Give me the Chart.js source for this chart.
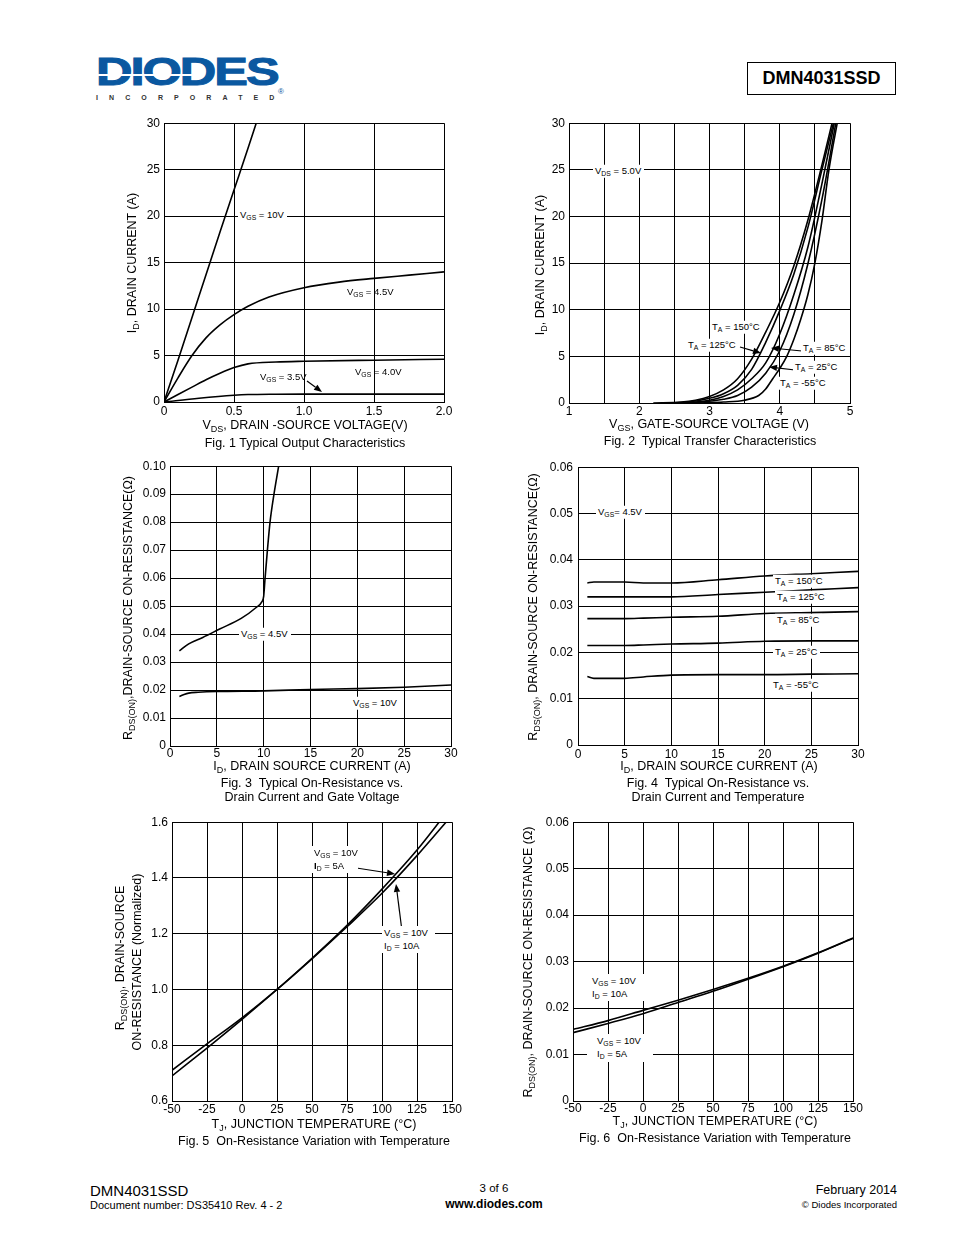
<!DOCTYPE html>
<html><head><meta charset="utf-8">
<script src="https://cdn.jsdelivr.net/npm/chart.js@4.4.1/dist/chart.umd.min.js"></script>
<style>
html,body{margin:0;padding:0;background:#fff;}
body{width:954px;height:1235px;position:relative;overflow:hidden;font-family:"Liberation Sans",Arial,sans-serif;color:#000;}
.abs{position:absolute;white-space:nowrap;line-height:1;}
canvas{position:absolute;}
.t{position:absolute;white-space:nowrap;font-size:12.5px;transform:translate(-50%,-50%);line-height:1;}
.ty{position:absolute;white-space:nowrap;font-size:12.5px;transform:translate(-50%,-50%) rotate(-90deg);line-height:1;}
sub{font-size:72%;vertical-align:baseline;position:relative;top:0.35em;line-height:0;}
.ann{position:absolute;white-space:nowrap;font-size:9.5px;line-height:1;transform:translateY(-50%);}
.ann2{position:absolute;white-space:nowrap;font-size:9.5px;line-height:13px;background:#fff;box-sizing:border-box;}
.wb{background:#fff;padding:1px 3px 2px 2px;margin-left:-2px;}
svg{position:absolute;left:0;top:0;}
</style></head><body>

<!-- header -->
<div class="abs" style="left:96px;top:53px;font-size:38px;font-weight:bold;color:#0a58a0;letter-spacing:-1.5px;-webkit-text-stroke:1px #0a58a0;transform:scaleX(1.33);transform-origin:left top;">DIODES</div>
<div class="abs" style="left:98px;top:74px;width:94px;height:2px;background:#fff;"></div>
<div class="abs" style="left:96px;top:94px;font-size:7px;font-weight:bold;color:#333;letter-spacing:11.1px;">INCORPORATED</div>
<div class="abs" style="left:278px;top:88px;font-size:8px;color:#0a58a0;">®</div>
<div class="abs" style="left:747px;top:62px;width:147px;height:31px;border:1.5px solid #000;font-size:18px;font-weight:bold;text-align:center;line-height:31px;">DMN4031SSD</div>

<!-- axis titles & captions -->
<div class="t" style="left:305px;top:425px;">V<sub>DS</sub>, DRAIN -SOURCE VOLTAGE(V)</div>
<div class="t" style="left:305px;top:443px;">Fig. 1 Typical Output Characteristics</div>
<div class="ty" style="left:132px;top:263px;">I<sub>D</sub>, DRAIN CURRENT (A)</div>

<div class="t" style="left:709px;top:424px;">V<sub>GS</sub>, GATE-SOURCE VOLTAGE (V)</div>
<div class="t" style="left:710px;top:441px;">Fig. 2&nbsp; Typical Transfer Characteristics</div>
<div class="ty" style="left:540px;top:265px;">I<sub>D</sub>, DRAIN CURRENT (A)</div>

<div class="t" style="left:312px;top:766px;">I<sub>D</sub>, DRAIN SOURCE CURRENT (A)</div>
<div class="t" style="left:312px;top:783px;">Fig. 3&nbsp; Typical On-Resistance vs.</div>
<div class="t" style="left:312px;top:797px;">Drain Current and Gate Voltage</div>
<div class="ty" style="left:128px;top:608px;">R<sub>DS(ON)</sub>,DRAIN-SOURCE ON-RESISTANCE(Ω)</div>

<div class="t" style="left:719px;top:766px;">I<sub>D</sub>, DRAIN SOURCE CURRENT (A)</div>
<div class="t" style="left:718px;top:783px;">Fig. 4&nbsp; Typical On-Resistance vs.</div>
<div class="t" style="left:718px;top:797px;">Drain Current and Temperature</div>
<div class="ty" style="left:533px;top:607px;">R<sub>DS(ON)</sub>, DRAIN-SOURCE ON-RESISTANCE(Ω)</div>

<div class="t" style="left:314px;top:1124px;">T<sub>J</sub>, JUNCTION TEMPERATURE (°C)</div>
<div class="t" style="left:314px;top:1141px;">Fig. 5&nbsp; On-Resistance Variation with Temperature</div>
<div class="ty" style="left:120px;top:958px;">R<sub>DS(ON)</sub>, DRAIN-SOURCE</div>
<div class="ty" style="left:137px;top:962px;">ON-RESISTANCE (Normalized)</div>

<div class="t" style="left:715px;top:1121px;">T<sub>J</sub>, JUNCTION TEMPERATURE (°C)</div>
<div class="t" style="left:715px;top:1138px;">Fig. 6&nbsp; On-Resistance Variation with Temperature</div>
<div class="ty" style="left:528px;top:962px;">R<sub>DS(ON)</sub>, DRAIN-SOURCE ON-RESISTANCE (Ω)</div>

<!-- footer -->
<div class="abs" style="left:90px;top:1183px;font-size:15px;">DMN4031SSD</div>
<div class="abs" style="left:90px;top:1200px;font-size:11px;">Document number: DS35410 Rev. 4 - 2</div>
<div class="abs" style="left:494px;top:1183px;font-size:11.5px;transform:translateX(-50%);">3 of 6</div>
<div class="abs" style="left:494px;top:1198px;font-size:12px;font-weight:bold;transform:translateX(-50%);">www.diodes.com</div>
<div class="abs" style="right:57px;top:1184px;font-size:12.5px;">February 2014</div>
<div class="abs" style="right:57px;top:1200px;font-size:9.5px;">© Diodes Incorporated</div>

<script>
// ---------- DATA ----------
// Fig 1: Typical Output Characteristics (VDS [V] -> ID [A])
const f1_vds_10V = [0, 0.1, 0.2, 0.3, 0.4, 0.5, 0.6, 0.68];
const f1_id_10V  = [0, 4.5, 9.1, 13.7, 18.3, 22.8, 27.3, 31];
const f1_vds_45V = [0, 0.1, 0.2, 0.3, 0.4, 0.5, 0.6, 0.75, 1.0, 1.25, 1.5, 1.75, 2.0];
const f1_id_45V  = [0, 2.6, 5.0, 6.9, 8.3, 9.4, 10.3, 11.3, 12.3, 12.9, 13.3, 13.65, 14.0];
const f1_vds_40V = [0, 0.1, 0.2, 0.3, 0.4, 0.5, 0.6, 0.8, 1.0, 1.5, 2.0];
const f1_id_40V  = [0, 0.8, 1.6, 2.4, 3.1, 3.7, 4.1, 4.3, 4.38, 4.5, 4.6];
const f1_vds_35V = [0, 0.25, 0.5, 0.6, 0.8, 1.0, 1.5, 2.0];
const f1_id_35V  = [0, 0.4, 0.72, 0.8, 0.84, 0.85, 0.85, 0.85];

// Fig 2: Typical Transfer Characteristics (VGS [V] -> ID [A])
const f2_vgs_150 = [2.2, 2.6, 2.8, 3.0, 3.2, 3.4, 3.6, 3.8, 4.0, 4.2, 4.4, 4.6, 4.76];
const f2_id_150  = [0, 0.1, 0.3, 0.7, 1.4, 2.6, 4.7, 7.6, 10.8, 14.7, 19.6, 25.5, 30.5];
const f2_vgs_125 = [2.3, 2.7, 3.0, 3.2, 3.4, 3.6, 3.8, 4.0, 4.2, 4.4, 4.6, 4.78];
const f2_id_125  = [0, 0.1, 0.5, 1.0, 1.9, 3.6, 6.5, 9.9, 13.8, 18.8, 25.0, 30.5];
const f2_vgs_85  = [2.4, 2.8, 3.0, 3.2, 3.4, 3.6, 3.8, 4.0, 4.2, 4.4, 4.6, 4.79];
const f2_id_85   = [0, 0.1, 0.3, 0.7, 1.4, 2.6, 4.3, 7.4, 11.6, 16.7, 23.5, 30.5];
const f2_vgs_25  = [2.5, 2.9, 3.2, 3.4, 3.6, 3.8, 4.0, 4.2, 4.4, 4.6, 4.81];
const f2_id_25   = [0, 0.1, 0.4, 0.8, 1.7, 3.2, 5.6, 9.5, 14.9, 21.8, 30.5];
const f2_vgs_m55 = [2.8, 3.2, 3.5, 3.7, 3.8, 3.9, 4.0, 4.1, 4.2, 4.3, 4.4, 4.5, 4.6, 4.7, 4.83];
const f2_id_m55  = [0, 0.1, 0.3, 0.8, 1.5, 2.6, 3.7, 5.0, 6.8, 9.0, 11.6, 15.0, 19.5, 25.0, 30.5];

// Fig 3: On-Resistance vs Drain Current and Gate Voltage (ID [A] -> RDS(ON) [ohm])
const f3_id_45V = [1, 2, 3.5, 5.3, 7.6, 9.2, 9.8, 10.0, 10.15, 10.4, 10.68, 11.1, 11.6, 11.7];
const f3_r_45V  = [0.034, 0.0365, 0.0388, 0.0418, 0.0456, 0.0495, 0.0515, 0.0535, 0.060, 0.070, 0.080, 0.090, 0.100, 0.102];
const f3_id_10V = [1, 1.5, 2, 3, 5, 10, 15, 20, 25, 30];
const f3_r_10V  = [0.0177, 0.0184, 0.0189, 0.0192, 0.0195, 0.0197, 0.0202, 0.0205, 0.0210, 0.0218];

// Fig 4: On-Resistance vs Drain Current and Temperature (ID [A] -> RDS(ON) [ohm])
const f4_id     = [1, 1.7, 5, 7, 10, 15, 20, 25, 30];
const f4_r_150  = [0.0350, 0.0352, 0.0352, 0.0350, 0.0350, 0.0357, 0.0365, 0.0370, 0.0375];
const f4_r_125  = [0.0320, 0.0320, 0.0320, 0.0320, 0.0320, 0.0325, 0.0330, 0.0335, 0.0340];
const f4_r_85   = [0.0273, 0.0273, 0.0273, 0.0274, 0.0276, 0.0278, 0.0284, 0.0286, 0.0288];
const f4_r_25   = [0.0215, 0.0215, 0.0215, 0.0216, 0.0218, 0.0220, 0.0224, 0.0225, 0.0225];
const f4_r_m55  = [0.0148, 0.0144, 0.0144, 0.0147, 0.0151, 0.0152, 0.0152, 0.0153, 0.0154];

// Fig 5: Normalized On-Resistance vs Junction Temperature (TJ [degC])
const f5_tj      = [-50, -25, 0, 25, 50, 75, 100, 125, 150];
const f5_r_10A   = [0.71, 0.805, 0.898, 1.0, 1.11, 1.225, 1.345, 1.48, 1.625];
const f5_r_5A    = [0.69, 0.79, 0.893, 1.0, 1.112, 1.23, 1.36, 1.50, 1.66];

// Fig 6: On-Resistance vs Junction Temperature (TJ [degC] -> RDS(ON) [ohm])
const f6_tj      = [-50, -25, 0, 25, 50, 75, 100, 125, 150];
const f6_r_10A   = [0.0154, 0.0173, 0.0195, 0.0217, 0.0240, 0.0264, 0.0290, 0.0319, 0.0351];
const f6_r_5A    = [0.0147, 0.0167, 0.0188, 0.0212, 0.0236, 0.0262, 0.0289, 0.0318, 0.0350];

// ---------- HELPERS ----------
const zip = (xs, ys) => xs.map((x, i) => ({x, y: ys[i]}));
const line = (xs, ys) => ({data: zip(xs, ys), showLine: true, borderColor: '#000', borderWidth: 1.6,
  pointRadius: 0, fill: false, cubicInterpolationMode: 'monotone'});
const FONT = {family: '"Liberation Sans", Arial, sans-serif', size: 12};

function makeChart(rect, xs, ys, datasets) {
  const PL = 60, PT = 10, PR = 26, PB = 22;
  const c = document.createElement('canvas');
  const w = rect.r - rect.l + PL + PR, h = rect.b - rect.t + PT + PB;
  c.width = w; c.height = h;
  c.style.left = (rect.l - PL) + 'px'; c.style.top = (rect.t - PT) + 'px';
  c.style.width = w + 'px'; c.style.height = h + 'px';
  document.body.insertBefore(c, document.body.firstChild);
  const axis = (s, fitFn) => ({
    type: 'linear', min: s.min, max: s.max,
    ticks: {stepSize: s.step, callback: s.fmt, padding: s.pad, font: FONT, color: '#000',
            autoSkip: false, maxRotation: 0, includeBounds: true},
    grid: {color: '#000', lineWidth: 1, drawTicks: false},
    border: {color: '#000', width: 1},
    afterFit: fitFn
  });
  new Chart(c, {
    type: 'scatter',
    data: {datasets},
    options: {
      responsive: false, animation: false, devicePixelRatio: 1,
      layout: {padding: {left: 0, top: PT, right: PR, bottom: 0}},
      plugins: {legend: {display: false}, tooltip: {enabled: false}},
      scales: {
        x: axis(xs, s => { s.height = PB; }),
        y: axis(ys, s => { s.width = PL; })
      }
    }
  });
}
const f0 = d => v => (Math.abs(v) < 1e-9 ? '0' : v.toFixed(d));

// Fig 1
makeChart({l: 164, t: 122, r: 444, b: 402},
  {min: 0, max: 2, step: 0.5, fmt: f0(1), pad: 2},
  {min: 0, max: 30, step: 5, fmt: v => String(Math.round(v)), pad: 4},
  [line(f1_vds_10V, f1_id_10V), line(f1_vds_45V, f1_id_45V), line(f1_vds_40V, f1_id_40V), line(f1_vds_35V, f1_id_35V)]);

// Fig 2
makeChart({l: 569, t: 122, r: 850, b: 403},
  {min: 1, max: 5, step: 0.5, fmt: v => (Math.abs(v - Math.round(v)) < 1e-6 ? String(Math.round(v)) : ''), pad: 1},
  {min: 0, max: 30, step: 5, fmt: v => String(Math.round(v)), pad: 4},
  [line(f2_vgs_150, f2_id_150), line(f2_vgs_125, f2_id_125), line(f2_vgs_85, f2_id_85),
   line(f2_vgs_25, f2_id_25), line(f2_vgs_m55, f2_id_m55)]);

// Fig 3
makeChart({l: 170, t: 465, r: 451, b: 746},
  {min: 0, max: 30, step: 5, fmt: v => String(Math.round(v)), pad: 0},
  {min: 0, max: 0.1, step: 0.01, fmt: f0(2), pad: 4},
  [line(f3_id_45V, f3_r_45V), line(f3_id_10V, f3_r_10V)]);

// Fig 4
makeChart({l: 578, t: 465, r: 858, b: 745},
  {min: 0, max: 30, step: 5, fmt: v => String(Math.round(v)), pad: 2},
  {min: 0, max: 0.06, step: 0.01, fmt: f0(2), pad: 5},
  [line(f4_id, f4_r_150), line(f4_id, f4_r_125), line(f4_id, f4_r_85), line(f4_id, f4_r_25), line(f4_id, f4_r_m55)]);

// Fig 5
makeChart({l: 172, t: 821, r: 452, b: 1101},
  {min: -50, max: 150, step: 25, fmt: v => String(Math.round(v)), pad: 1},
  {min: 0.6, max: 1.6, step: 0.2, fmt: f0(1), pad: 4},
  [line(f5_tj, f5_r_10A), line(f5_tj, f5_r_5A)]);

// Fig 6
makeChart({l: 573, t: 821, r: 853, b: 1101},
  {min: -50, max: 150, step: 25, fmt: v => String(Math.round(v)), pad: 0},
  {min: 0, max: 0.06, step: 0.01, fmt: f0(2), pad: 4},
  [line(f6_tj, f6_r_10A), line(f6_tj, f6_r_5A)]);

// ---------- ANNOTATIONS ----------
const NS = 'http://www.w3.org/2000/svg';
const svg = document.createElementNS(NS, 'svg');
svg.setAttribute('width', 954); svg.setAttribute('height', 1235);
document.body.appendChild(svg);
function arrow(x1, y1, x2, y2) {
  const dx = x2 - x1, dy = y2 - y1, L = Math.hypot(dx, dy), ux = dx / L, uy = dy / L;
  const hl = 8, hw = 3.2, bx = x2 - ux * hl, by = y2 - uy * hl;
  const l = document.createElementNS(NS, 'line');
  l.setAttribute('x1', x1); l.setAttribute('y1', y1); l.setAttribute('x2', bx); l.setAttribute('y2', by);
  l.setAttribute('stroke', '#000'); l.setAttribute('stroke-width', 1.2);
  svg.appendChild(l);
  const p = document.createElementNS(NS, 'polygon');
  p.setAttribute('points', `${x2},${y2} ${bx - uy * hw},${by + ux * hw} ${bx + uy * hw},${by - ux * hw}`);
  p.setAttribute('fill', '#000');
  svg.appendChild(p);
}
arrow(307, 381, 322, 392);
arrow(740, 347, 761, 353);
arrow(802, 351, 771, 348);
arrow(795, 370, 769, 367);
arrow(350, 867, 395, 874);
arrow(402, 931, 396, 884);

function ann(x, y, html, white) {
  const d = document.createElement('div');
  d.className = 'ann' + (white ? ' wb' : '');
  d.style.left = x + 'px'; d.style.top = y + 'px';
  d.innerHTML = html;
  document.body.appendChild(d);
}
function ann2(x, y, w, h, padL, html) {
  const d = document.createElement('div');
  d.className = 'ann2';
  d.style.left = x + 'px'; d.style.top = y + 'px'; d.style.width = w + 'px'; d.style.height = h + 'px';
  d.style.paddingLeft = padL + 'px';
  d.innerHTML = html;
  document.body.appendChild(d);
}
// Fig 1
ann(240, 215, 'V<sub>GS</sub> = 10V', true);
ann(347, 292, 'V<sub>GS</sub> = 4.5V', false);
ann(355, 372, 'V<sub>GS</sub> = 4.0V', false);
ann(260, 377, 'V<sub>GS</sub> = 3.5V', false);
// Fig 2
ann(595, 171, 'V<sub>DS</sub> = 5.0V', true);
ann(712, 327, 'T<sub>A</sub> = 150°C', true);
ann(688, 345, 'T<sub>A</sub> = 125°C', true);
ann(803, 348, 'T<sub>A</sub> = 85°C', true);
ann(795, 367, 'T<sub>A</sub> = 25°C', true);
ann(780, 383, 'T<sub>A</sub> = -55°C', true);
// Fig 3
ann(241, 634, 'V<sub>GS</sub> = 4.5V', true);
ann(353, 703, 'V<sub>GS</sub> = 10V', true);
// Fig 4
ann(598, 512, 'V<sub>GS</sub>= 4.5V', true);
ann(775, 581, 'T<sub>A</sub> = 150°C', true);
ann(777, 597, 'T<sub>A</sub> = 125°C', true);
ann(777, 620, 'T<sub>A</sub> = 85°C', true);
ann(775, 652, 'T<sub>A</sub> = 25°C', true);
ann(773, 685, 'T<sub>A</sub> = -55°C', true);
// Fig 5
ann2(312, 846, 46, 27, 2, 'V<sub>GS</sub> = 10V<br><b>I</b><sub>D</sub> = 5A');
ann2(382, 926, 53, 27, 2, 'V<sub>GS</sub> = 10V<br>I<sub>D</sub> = 10A');
// Fig 6
ann2(590, 974, 54, 27, 2, 'V<sub>GS</sub> = 10V<br>I<sub>D</sub> = 10A');
ann2(587, 1034, 66, 28, 10, 'V<sub>GS</sub> = 10V<br>I<sub>D</sub> = 5A');
</script>
</body></html>
